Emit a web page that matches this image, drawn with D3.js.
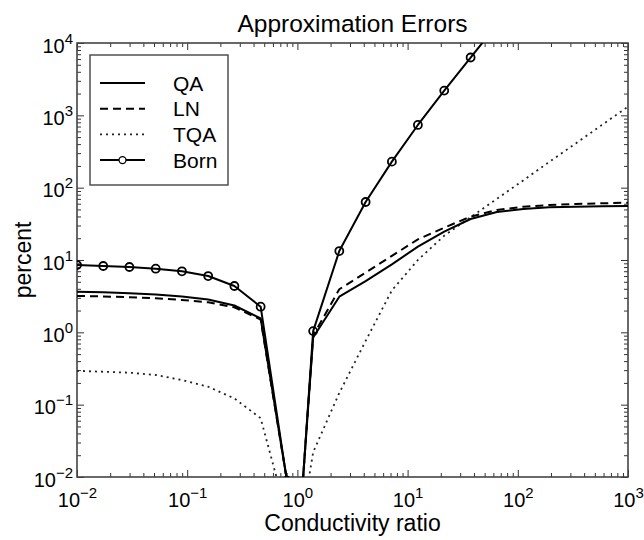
<!DOCTYPE html>
<html>
<head>
<meta charset="utf-8">
<script src="https://cdn.jsdelivr.net/npm/d3@7"></script>
<style>
  body { margin: 0; background: #fff; }
  svg { display: block; font-family: "Liberation Sans", Arial, Helvetica, sans-serif; }
</style>
</head>
<body>
<div id="chart"></div>
<script>
// conductivity ratio (x), 0 values mean "no error" and break the line
const ratio = [0.01, 0.0173, 0.0299, 0.0518, 0.0896, 0.155, 0.268, 0.464, 0.803, 1.0, 1.12,
  1.39, 2.40, 4.16, 7.20, 12.4, 21.5, 37.3, 64.5, 112, 193, 334, 578, 1000];

const qa = [3.63, 3.57, 3.47, 3.33, 3.13, 2.85, 2.35, 1.56, 0.009, 0, 0.0086,
  0.85, 3.11, 5.1, 8.7, 15.3, 24.7, 36.9, 46.1, 50.7, 53.5, 54.6, 55.2, 55.8];
const ln = [3.18, 3.14, 3.06, 2.95, 2.8, 2.6, 2.22, 1.5, 0.009, 0, 0.0086,
  0.9, 3.94, 6.7, 11.4, 19.3, 28.0, 39.8, 49.0, 54.6, 57.6, 59.6, 60.8, 62.1];
const tqa = [0.294, 0.285, 0.277, 0.257, 0.219, 0.177, 0.122, 0.065, 0.0029, 0, 0.003,
  0.022, 0.145, 0.76, 3.8, 10.0, 21.7, 39, 70, 126, 227, 407, 733, 1318];
const born = [8.53, 8.26, 8.0, 7.59, 6.97, 6.0, 4.37, 2.26, 0.0089, 0, 0.0086,
  1.04, 13.3, 63.4, 229, 736, 2197, 6300, 17800, 50000, 140000, 400000, 1100000, 3000000];

const xDecades = [1e-2, 1e-1, 1e0, 1e1, 1e2, 1e3];
const yDecades = [1e-2, 1e-1, 1e0, 1e1, 1e2, 1e3, 1e4];
const legendNames = ["QA", "LN", "TQA", "Born"];

const W = 644, H = 540;
const margin = { top: 43, right: 16, bottom: 63, left: 77 };
const width = W - margin.left - margin.right;
const height = H - margin.top - margin.bottom;

const svg = d3.select("#chart").append("svg")
  .attr("width", W)
  .attr("height", H);

const g = svg.append("g")
  .attr("transform", `translate(${margin.left},${margin.top})`);

const x = d3.scaleLog().domain([1e-2, 1e3]).range([0, width]);
const y = d3.scaleLog().domain([1e-2, 1e4]).range([height, 0]);

svg.append("defs").append("clipPath").attr("id", "plot-clip")
  .append("rect").attr("width", width).attr("height", height);

// ticks: minor (no labels) + major
const xMinor = x.ticks().filter((d) => !xDecades.includes(d));
const yMinor = y.ticks().filter((d) => !yDecades.some((t) => Math.abs(t - d) / t < 1e-9));

function expOf(d) {
  return Math.round(Math.log10(d));
}
function supLabel(sel) {
  sel.each(function (d) {
    const t = d3.select(this);
    t.text("");
    t.append("tspan").text("10");
    const e = expOf(d);
    t.append("tspan")
      .attr("font-size", 15)
      .attr("dy", -9)
      .text(e < 0 ? "\u2212" + (-e) : String(e));
  });
}

const tickColor = "#333";

function styleAxis(a) {
  a.select(".domain").remove();
  a.selectAll(".tick line").attr("stroke", tickColor).attr("stroke-width", 1);
}

// bottom
g.append("g").attr("transform", `translate(0,${height})`)
  .call(d3.axisBottom(x).tickValues(xMinor).tickSize(-4).tickFormat(""))
  .call(styleAxis);
g.append("g").attr("transform", `translate(0,${height})`)
  .call(d3.axisBottom(x).tickValues(xDecades).tickSize(-7))
  .call(styleAxis)
  .call((a) => a.selectAll("text")
    .attr("y", 30).attr("dy", null)
    .attr("font-size", 20).attr("fill", "#000")
    .attr("font-family", "Liberation Sans, Arial, sans-serif")
    .call(supLabel));
// top
g.append("g")
  .call(d3.axisTop(x).tickValues(xMinor).tickSize(-4).tickFormat(""))
  .call(styleAxis);
g.append("g")
  .call(d3.axisTop(x).tickValues(xDecades).tickSize(-7).tickFormat(""))
  .call(styleAxis);
// left
g.append("g")
  .call(d3.axisLeft(y).tickValues(yMinor).tickSize(-4).tickFormat(""))
  .call(styleAxis);
g.append("g")
  .call(d3.axisLeft(y).tickValues(yDecades).tickSize(-7))
  .call(styleAxis)
  .call((a) => a.selectAll("text")
    .attr("x", -4).attr("y", 9).attr("dy", null)
    .attr("font-size", 20).attr("fill", "#000")
    .attr("font-family", "Liberation Sans, Arial, sans-serif")
    .call(supLabel));
// right
g.append("g").attr("transform", `translate(${width},0)`)
  .call(d3.axisRight(y).tickValues(yMinor).tickSize(-4).tickFormat(""))
  .call(styleAxis);
g.append("g").attr("transform", `translate(${width},0)`)
  .call(d3.axisRight(y).tickValues(yDecades).tickSize(-7).tickFormat(""))
  .call(styleAxis);

// frame
g.append("rect")
  .attr("width", width)
  .attr("height", height)
  .attr("fill", "none")
  .attr("stroke", "#444")
  .attr("stroke-width", 1.6);

// lines
const rows = ratio.map((r, i) => ({ r, qa: qa[i], ln: ln[i], tqa: tqa[i], born: born[i] }));

const series = [
  { key: "tqa", dash: "2,4", width: 1.8, color: "#222" },
  { key: "ln", dash: "8,5", width: 2, color: "#000" },
  { key: "qa", dash: null, width: 2, color: "#000" },
  { key: "born", dash: null, width: 2, color: "#000" },
];

const plot = g.append("g").attr("clip-path", "url(#plot-clip)");

series.forEach((s) => {
  const line = d3.line()
    .defined((d) => d[s.key] > 0)
    .x((d) => x(d.r))
    .y((d) => y(d[s.key]));
  plot.append("path")
    .datum(rows)
    .attr("fill", "none")
    .attr("stroke", s.color)
    .attr("stroke-width", s.width)
    .attr("stroke-dasharray", s.dash)
    .attr("stroke-linejoin", "round")
    .attr("d", line);
});

plot.selectAll(".born-mark")
  .data(rows.filter((d) => d.born > 0))
  .join("circle")
  .attr("class", "born-mark")
  .attr("cx", (d) => x(d.r))
  .attr("cy", (d) => y(d.born))
  .attr("r", 4)
  .attr("fill", "none")
  .attr("stroke", "#000")
  .attr("stroke-width", 1.8);

// legend
const legend = g.append("g").attr("transform", "translate(13,12)");
legend.append("rect")
  .attr("width", 138)
  .attr("height", 130)
  .attr("fill", "#fff")
  .attr("stroke", "#444")
  .attr("stroke-width", 1.4);

const legStyles = [series[2], series[1], series[0], series[3]];
legendNames.forEach((name, i) => {
  const yy = 28 + i * 25.7;
  const s = legStyles[i];
  legend.append("line")
    .attr("x1", 10).attr("x2", 55)
    .attr("y1", yy).attr("y2", yy)
    .attr("stroke", s.color)
    .attr("stroke-width", s.width)
    .attr("stroke-dasharray", s.dash);
  if (name === "Born") {
    legend.append("circle")
      .attr("cx", 32.5).attr("cy", yy).attr("r", 3.5)
      .attr("fill", "#fff").attr("stroke", "#000").attr("stroke-width", 1.3);
  }
  legend.append("text")
    .attr("x", 83)
    .attr("y", yy + 7.5)
    .attr("font-size", 21)
    .text(name);
});

// title and axis labels
svg.append("text")
  .attr("x", margin.left + width / 2)
  .attr("y", 32)
  .attr("text-anchor", "middle")
  .attr("font-size", 24.5)
  .text("Approximation Errors");

svg.append("text")
  .attr("x", margin.left + width / 2)
  .attr("y", 531)
  .attr("text-anchor", "middle")
  .attr("font-size", 23)
  .text("Conductivity ratio");

svg.append("text")
  .attr("transform", `translate(31,${margin.top + height / 2}) rotate(-90)`)
  .attr("text-anchor", "middle")
  .attr("font-size", 23)
  .text("percent");
</script>
</body>
</html>
